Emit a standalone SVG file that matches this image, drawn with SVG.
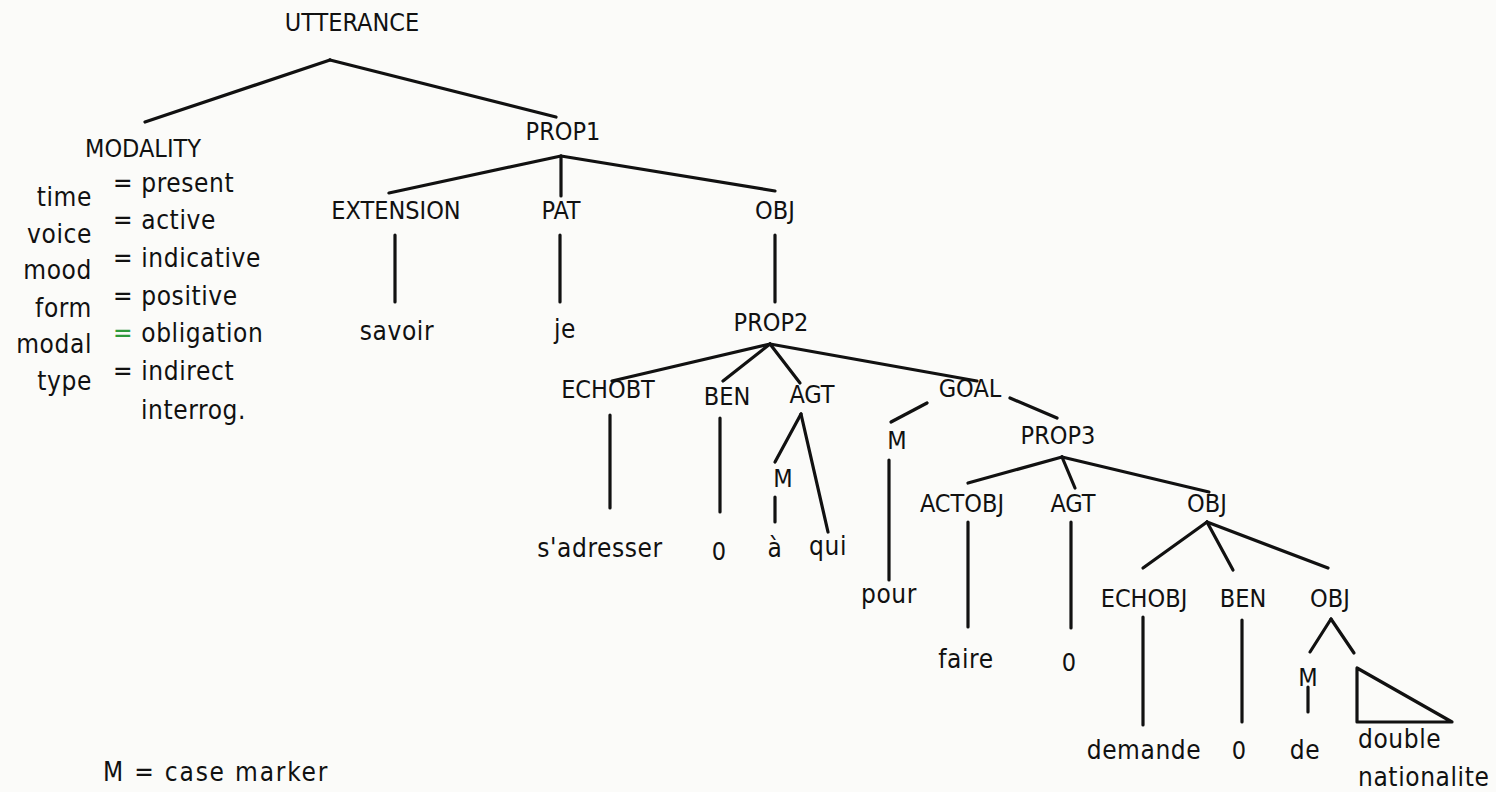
<svg xmlns="http://www.w3.org/2000/svg" width="1496" height="792" viewBox="0 0 1496 792">
<style>
text{font-family:"DejaVu Sans","Liberation Sans",sans-serif;font-stretch:condensed;font-size:25px;fill:#111}
.l{font-size:26px;letter-spacing:0.6px}
.c{text-anchor:middle}
.e{text-anchor:end}
.g{fill:#2e9a3c}
#edges line,#edges polyline,#edges polygon{stroke:#111;stroke-width:3.2;fill:none;stroke-linecap:round;stroke-linejoin:round}
</style>
<rect width="1496" height="792" fill="#fbfbf9"/>
<g id="edges">
<line x1="330" y1="60" x2="145" y2="122"/>
<line x1="330" y1="60" x2="556" y2="117"/>
<line x1="561" y1="156" x2="389" y2="193"/>
<line x1="561" y1="156" x2="561" y2="196"/>
<line x1="561" y1="156" x2="775" y2="191"/>
<line x1="395" y1="235" x2="395" y2="302"/>
<line x1="560" y1="235" x2="560" y2="302"/>
<line x1="775" y1="235" x2="775" y2="302"/>
<line x1="770" y1="344" x2="612" y2="381"/>
<line x1="770" y1="344" x2="723" y2="381"/>
<line x1="770" y1="344" x2="800" y2="383"/>
<line x1="770" y1="344" x2="977" y2="381"/>
<line x1="610" y1="415" x2="610" y2="508"/>
<line x1="720" y1="418" x2="720" y2="512"/>
<line x1="801" y1="414" x2="775" y2="462"/>
<line x1="801" y1="414" x2="828" y2="532"/>
<line x1="775" y1="497" x2="775" y2="522"/>
<line x1="927" y1="403" x2="891" y2="422"/>
<line x1="1010" y1="398" x2="1057" y2="418"/>
<line x1="889" y1="460" x2="889" y2="580"/>
<line x1="1062" y1="457" x2="968" y2="483"/>
<line x1="1062" y1="457" x2="1075" y2="488"/>
<line x1="1062" y1="457" x2="1209" y2="492"/>
<line x1="968" y1="522" x2="968" y2="627"/>
<line x1="1071" y1="522" x2="1071" y2="628"/>
<line x1="1207" y1="522" x2="1143" y2="568"/>
<line x1="1207" y1="522" x2="1233" y2="570"/>
<line x1="1207" y1="522" x2="1328" y2="568"/>
<line x1="1143" y1="617" x2="1143" y2="725"/>
<line x1="1242" y1="620" x2="1242" y2="722"/>
<line x1="1331" y1="619" x2="1310" y2="652"/>
<line x1="1331" y1="619" x2="1354" y2="653"/>
<line x1="1308" y1="687" x2="1308" y2="712"/>
<polygon points="1357,668 1357,722 1452,722"/>
</g>
<g id="utterance"><text class="c" x="352" y="31">UTTERANCE</text></g>
<g id="modality">
<text class="c" x="143" y="157">MODALITY</text>
<text class="e l" x="92" y="206">time</text>
<text class="e l" x="92" y="243">voice</text>
<text class="e l" x="92" y="279">mood</text>
<text class="e l" x="92" y="317">form</text>
<text class="e l" x="92" y="353">modal</text>
<text class="e l" x="92" y="390">type</text>
<text class="l" x="113" y="192">= present</text>
<text class="l" x="113" y="229">= active</text>
<text class="l" x="113" y="267">= indicative</text>
<text class="l" x="113" y="305">= positive</text>
<text class="l" x="113" y="342"><tspan class="g">=</tspan> obligation</text>
<text class="l" x="113" y="380">= indirect</text>
<text class="l" x="141" y="419">interrog.</text>
</g>
<g id="prop1"><text class="c" x="563" y="140">PROP1</text></g>
<g id="extension"><text class="c" x="396" y="219">EXTENSION</text></g>
<g id="pat"><text class="c" x="561" y="219">PAT</text></g>
<g id="obj1"><text class="c" x="775" y="219">OBJ</text></g>
<g id="savoir"><text class="c l" x="397" y="340">savoir</text></g>
<g id="je"><text class="c l" x="565" y="338">je</text></g>
<g id="prop2"><text class="c" x="771" y="331">PROP2</text></g>
<g id="echobt"><text class="c" x="608" y="398">ECHOBT</text></g>
<g id="ben1"><text class="c" x="727" y="405">BEN</text></g>
<g id="agt1"><text class="c" x="812" y="403">AGT</text></g>
<g id="goal"><text class="c" x="970" y="397">GOAL</text></g>
<g id="m1"><text class="c" x="783" y="487">M</text></g>
<g id="m2"><text class="c" x="897" y="449">M</text></g>
<g id="sadresser"><text class="c l" x="600" y="557">s'adresser</text></g>
<g id="zero1"><text class="c" x="719" y="560">0</text></g>
<g id="a"><text class="c l" x="775" y="557">à</text></g>
<g id="qui"><text class="c l" x="828" y="555">qui</text></g>
<g id="pour"><text class="c l" x="889" y="603">pour</text></g>
<g id="prop3"><text class="c" x="1058" y="444">PROP3</text></g>
<g id="actobj"><text class="c" x="962" y="512">ACTOBJ</text></g>
<g id="agt2"><text class="c" x="1073" y="512">AGT</text></g>
<g id="obj2"><text class="c" x="1207" y="512">OBJ</text></g>
<g id="faire"><text class="c l" x="966" y="668">faire</text></g>
<g id="zero2"><text class="c" x="1069" y="671">0</text></g>
<g id="echobj"><text class="c" x="1144" y="607">ECHOBJ</text></g>
<g id="ben2"><text class="c" x="1243" y="607">BEN</text></g>
<g id="obj3"><text class="c" x="1330" y="607">OBJ</text></g>
<g id="m3"><text class="c" x="1308" y="686">M</text></g>
<g id="demande"><text class="c l" x="1144" y="759">demande</text></g>
<g id="zero3"><text class="c" x="1239" y="759">0</text></g>
<g id="de"><text class="c l" x="1305" y="759">de</text></g>
<g id="double"><text class="l" x="1358" y="748">double</text><text class="l" x="1358" y="786">nationalite</text></g>
<g id="legend"><text class="l" x="103" y="781" style="letter-spacing:1.8px">M = case marker</text></g>
</svg>
